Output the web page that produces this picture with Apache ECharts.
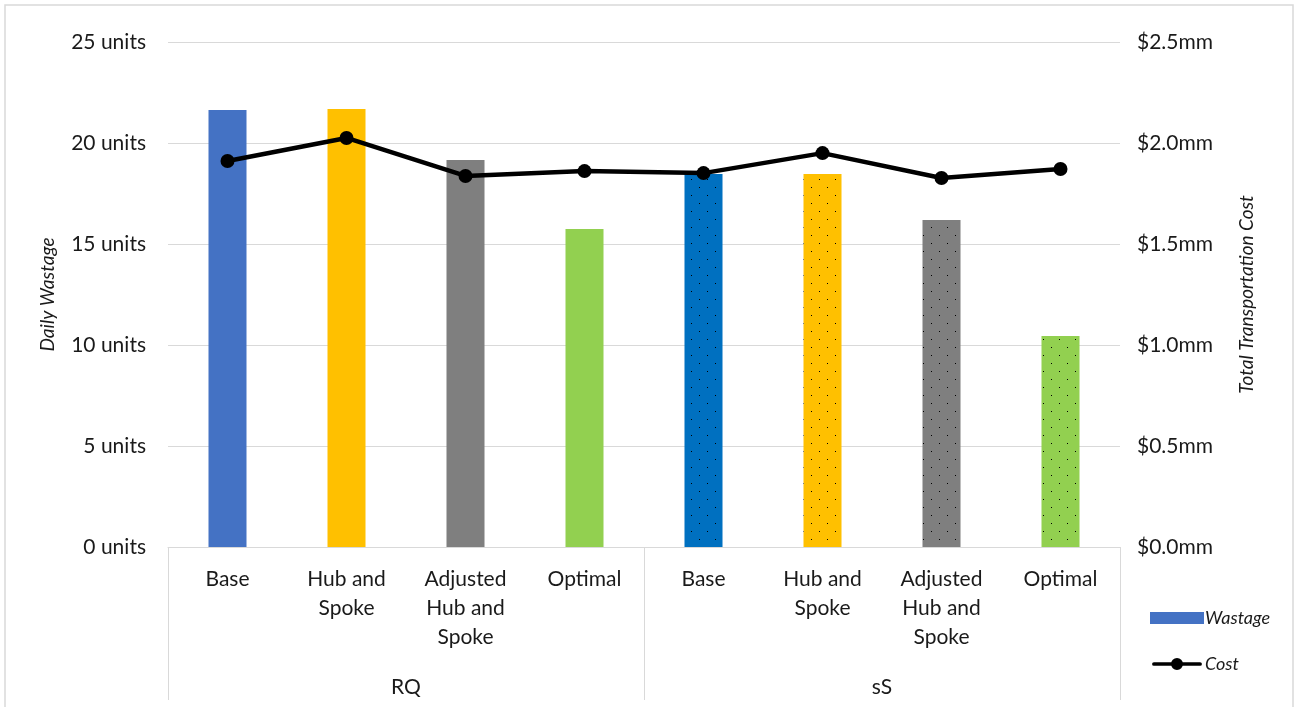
<!DOCTYPE html>
<html>
<head>
<meta charset="utf-8">
<script src="https://cdn.jsdelivr.net/npm/echarts@6/dist/echarts.min.js"></script>
<style>
html,body{margin:0;padding:0;background:#fff;}
#c{width:1297px;height:707px;}
</style>
</head>
<body>
<div id="c"></div>
<script>
// ---- data ----
const categoryLabels = ['Base', 'Hub and\nSpoke', 'Adjusted\nHub and\nSpoke', 'Optimal',
                        'Base', 'Hub and\nSpoke', 'Adjusted\nHub and\nSpoke', 'Optimal'];
const groupLabels = ['RQ', 'sS'];
const wastage = [21.63, 21.68, 19.16, 15.74, 18.47, 18.47, 16.19, 10.45];
const cost = [1.911, 2.025, 1.837, 1.861, 1.851, 1.950, 1.827, 1.871];
const barColors = ['#4472C4', '#FFC000', '#7F7F7F', '#92D050', '#0070C0', '#FFC000', '#7F7F7F', '#92D050'];
const dotted = [false, false, false, false, true, true, true, true];
const leftTicks = [0, 5, 10, 15, 20, 25];
const rightTicks = [0, 0.5, 1.0, 1.5, 2.0, 2.5];

function makePattern(color) {
  const c = document.createElement('canvas');
  c.width = 16; c.height = 16;
  const ctx = c.getContext('2d');
  ctx.fillStyle = color;
  ctx.fillRect(0, 0, 16, 16);
  ctx.fillStyle = '#000';
  ctx.fillRect(3, 3, 1, 1);
  ctx.fillRect(11, 11, 1, 1);
  return { image: c, repeat: 'repeat' };
}

const FONT = 'Lato, "Noto Sans", sans-serif';
const TXT = '#1a1a1a';
const GRID = '#d9d9d9';

const chart = echarts.init(document.getElementById('c'), null, { renderer: 'canvas' });

const barData = wastage.map((v, i) => ({
  value: v,
  itemStyle: { color: dotted[i] ? makePattern(barColors[i]) : barColors[i] }
}));

const lineIcon = 'path://M2,4.5 L52,4.5 A2,2 0 0 1 52,8.5 L2,8.5 A2,2 0 0 1 2,4.5 Z M33.5,6.5 A6.5,6.5 0 1 1 20.5,6.5 A6.5,6.5 0 1 1 33.5,6.5 Z';

chart.setOption({
  animation: false,
  backgroundColor: '#fff',
  textStyle: { fontFamily: FONT },
  grid: { left: 168, right: 177, top: 42, bottom: 160, containLabel: false },
  legend: {
    orient: 'vertical',
    left: 1145,
    top: 604,
    itemWidth: 54,
    itemHeight: 12,
    itemGap: 28,
    textStyle: { fontFamily: FONT, fontSize: 18, fontStyle: 'italic', color: TXT, padding: [0, 0, 0, -4] },
    data: [
      { name: 'Wastage', icon: 'rect', itemStyle: { color: '#4472C4' } },
      { name: 'Cost', icon: lineIcon, itemStyle: { color: '#000' } }
    ]
  },
  xAxis: [
    {
      type: 'category',
      data: categoryLabels,
      position: 'bottom',
      axisLine: { show: true, lineStyle: { color: GRID, width: 1 } },
      axisTick: { show: false },
      axisLabel: { fontFamily: FONT, fontSize: 21, color: TXT, margin: 18, lineHeight: 29, interval: 0 }
    },
    {
      type: 'category',
      data: groupLabels,
      position: 'bottom',
      gridIndex: 0,
      axisLine: { show: false },
      axisTick: { show: true, length: 153, lineStyle: { color: GRID, width: 1 } },
      axisLabel: { fontFamily: FONT, fontSize: 21, color: TXT, margin: 130 },
      splitLine: { show: false }
    }
  ],
  yAxis: [
    {
      type: 'value',
      min: leftTicks[0], max: leftTicks[leftTicks.length - 1], interval: 5,
      name: 'Daily Wastage',
      nameLocation: 'middle',
      nameRotate: 90,
      nameGap: 111,
      nameTextStyle: { fontFamily: FONT, fontSize: 19, fontStyle: 'italic', color: TXT },
      axisLine: { show: false },
      axisTick: { show: false },
      axisLabel: { fontFamily: FONT, fontSize: 21, color: TXT, margin: 22, formatter: v => v + ' units' },
      splitLine: { show: true, lineStyle: { color: GRID, width: 1 } }
    },
    {
      type: 'value',
      position: 'right',
      min: rightTicks[0], max: rightTicks[rightTicks.length - 1], interval: 0.5,
      name: 'Total Transportation Cost',
      nameLocation: 'middle',
      nameRotate: 90,
      nameGap: 117,
      nameTextStyle: { fontFamily: FONT, fontSize: 19, fontStyle: 'italic', color: TXT },
      axisLine: { show: false },
      axisTick: { show: false },
      axisLabel: { fontFamily: FONT, fontSize: 21, color: TXT, margin: 17, formatter: v => '$' + v.toFixed(1) + 'mm' },
      splitLine: { show: false }
    }
  ],
  series: [
    {
      name: 'Wastage',
      type: 'bar',
      xAxisIndex: 0,
      yAxisIndex: 0,
      barWidth: 38,
      itemStyle: { color: '#4472C4' },
      data: barData
    },
    {
      name: 'Cost',
      type: 'line',
      xAxisIndex: 0,
      yAxisIndex: 1,
      symbol: 'circle',
      symbolSize: 14,
      itemStyle: { color: '#000' },
      lineStyle: { color: '#000', width: 4.5 },
      data: cost
    }
  ],
  graphic: [
    {
      type: 'rect',
      shape: { x: 5, y: 5, width: 1288, height: 720 },
      style: { fill: null, stroke: GRID, lineWidth: 1.5 },
      silent: true
    }
  ]
});
</script>
</body>
</html>
